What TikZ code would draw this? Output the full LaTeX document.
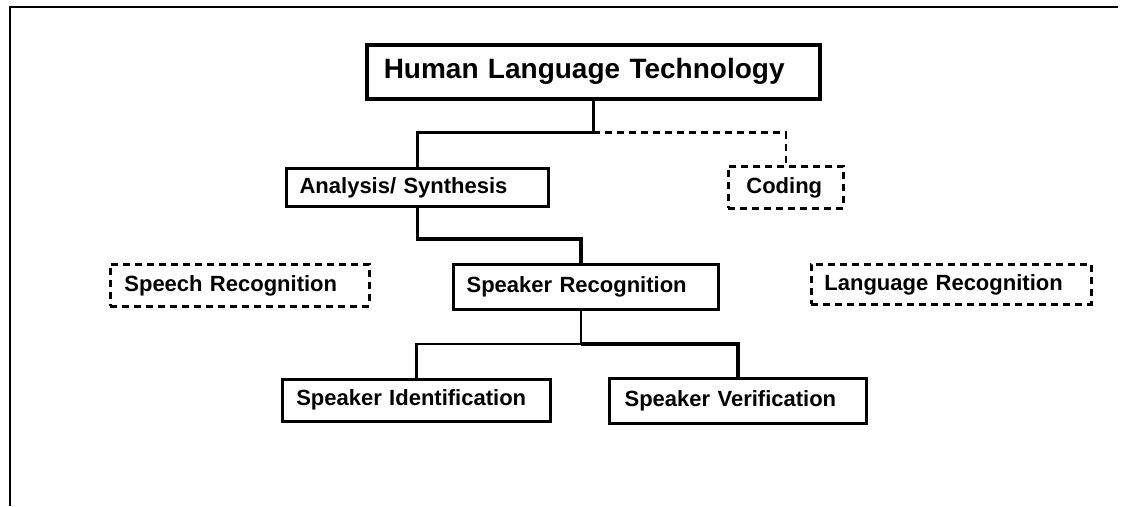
\documentclass[tikz,border=0pt]{standalone}
\usepackage{fontspec}
\setmainfont{Liberation Sans}
\begin{document}
\begin{tikzpicture}[x=1pt,y=-1pt,
  box/.style={draw, line width=3.2pt, inner ysep=0pt, align=left, anchor=north west,
    font=\bfseries\fontsize{22}{24}\selectfont},
  dbox/.style={box, line width=2.8pt, dash pattern=on 7pt off 5pt},
  conn/.style={line width=3.5pt},
  thinconn/.style={line width=2.5pt},
  dconn/.style={line width=2.8pt, dash pattern=on 7pt off 5pt}]
\useasboundingbox (0,0) rectangle (1127,506);
% frame
\draw[line width=2.5pt] (10,506) -- (10,7) -- (1118,7);
% nodes
\node[box, line width=3.5pt, text width=419pt, inner xsep=17pt, minimum height=54pt,
  font=\bfseries\fontsize{28}{30}\selectfont] (hlt) at (365,43) {Human Language Technology};
\node[box, text width=236pt, inner xsep=13pt, minimum height=38pt] (ana) at (285,167) {Analysis/ Synthesis};
\node[dbox, text width=79pt, inner xsep=18pt, minimum height=42pt] (cod) at (727,165) {Coding};
\node[dbox, text width=231pt, inner xsep=14pt, minimum height=42pt] (spr) at (109,263) {Speech Recognition};
\node[box, text width=239pt, inner xsep=13pt, minimum height=45pt] (skr) at (452,263) {Speaker Recognition};
\node[dbox, text width=254pt, inner xsep=13pt, minimum height=40pt] (lar) at (810,263) {Language Recognition};
\node[box, line width=2.6pt, text width=240pt, inner xsep=14pt, minimum height=42pt] (sid) at (281,378) {Speaker Identification};
\node[box, text width=227pt, inner xsep=15pt, minimum height=45pt] (sve) at (608,377) {Speaker Verification};
% connectors
\draw[conn] (hlt.south) -- ++(0,32) coordinate (j1) -| (ana.north);
\draw[dconn] (j1) -| (cod.north);
\draw[conn] (ana.south) -- ++(0,31) -| ([xshift=-5pt]skr.north);
\draw[thinconn] ([xshift=-5pt]skr.south) -- ++(0,33) coordinate (j3) -| (sid.north);
\draw[conn] (j3) -| (sve.north);
\end{tikzpicture}
\end{document}
